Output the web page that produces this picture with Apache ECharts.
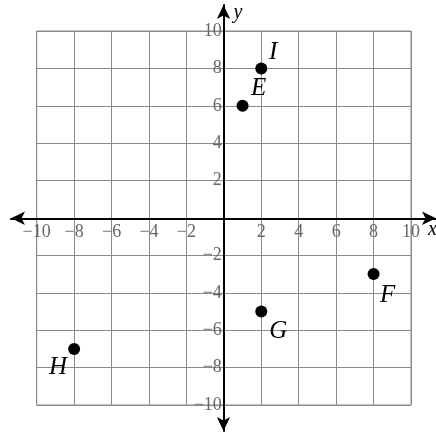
<!DOCTYPE html>
<html>
<head>
<meta charset="utf-8">
<script src="https://cdn.jsdelivr.net/npm/echarts@6/dist/echarts.min.js"></script>
<style>html,body{margin:0;padding:0;background:#fff}#c{width:436px;height:432px}</style>
</head>
<body>
<div id="c"></div>
<script>
// ---- data ----
const pointNames = ['E', 'F', 'G', 'H', 'I'];
const xValues = [1, 8, 2, -8, 2];
const yValues = [6, -3, -5, -7, 8];
const xTickLabels = [-10, -8, -6, -4, -2, 2, 4, 6, 8, 10];
const yTickLabels = [-10, -8, -6, -4, -2, 2, 4, 6, 8, 10];

// ---- layout / styling ----
const W = 436, H = 432;
const g0 = { left: 36.7, right: 25, top: 31, bottom: 27 };
const g0w = W - g0.left - g0.right, g0h = H - g0.top - g0.bottom;
const labelOffsets = { E: [16, -17], F: [14, 21], G: [17, 20], H: [-16, 19], I: [12, -16] };

const serif = 'Liberation Serif, serif';
const fmt = (list) => (v) => list.indexOf(v) >= 0 ? String(v).replace('-', '\u2212') : '';

const chart = echarts.init(document.getElementById('c'));
chart.setOption({
  animation: false,
  backgroundColor: '#fff',
  grid: [
    Object.assign({ show: true, borderColor: '#8a8a8a', borderWidth: 1, outerBoundsMode: 'none', containLabel: false }, g0),
    { left: 11, right: 0, top: 5, bottom: 1, outerBoundsMode: 'none', containLabel: false }
  ],
  xAxis: [
    {
      type: 'value', gridIndex: 0, min: -10, max: 10, interval: 2, position: 'bottom', offset: -g0h / 2,
      axisLine: { show: false, onZero: false }, axisTick: { show: false },
      splitLine: { show: true, lineStyle: { color: '#8a8a8a', width: 1 } },
      axisLabel: { formatter: fmt(xTickLabels), margin: 5, color: '#666', fontFamily: serif, fontSize: 18 }
    },
    {
      type: 'value', gridIndex: 1, min: -11.35, max: 11.35,
      axisLine: { show: true, onZero: true, symbol: ['arrow', 'arrow'], symbolSize: [10, 14], lineStyle: { color: '#000', width: 2 } },
      axisTick: { show: false }, axisLabel: { show: false }, splitLine: { show: false },
      name: 'x', nameLocation: 'end', nameGap: -8,
      nameTextStyle: { fontFamily: serif, fontStyle: 'italic', fontSize: 20, color: '#000', verticalAlign: 'top', padding: [1, 0, 0, 0] }
    }
  ],
  yAxis: [
    {
      type: 'value', gridIndex: 0, min: -10, max: 10, interval: 2, position: 'left', offset: -g0w / 2,
      axisLine: { show: false, onZero: false }, axisTick: { show: false },
      splitLine: { show: true, lineStyle: { color: '#8a8a8a', width: 1 } },
      axisLabel: { formatter: fmt(yTickLabels), margin: 2, color: '#666', fontFamily: serif, fontSize: 18, padding: [4, 0, 0, 0] }
    },
    {
      type: 'value', gridIndex: 1, min: -11.37, max: 11.4,
      axisLine: { show: true, onZero: true, symbol: ['arrow', 'arrow'], symbolSize: [10, 14], lineStyle: { color: '#000', width: 2 } },
      axisTick: { show: false }, axisLabel: { show: false }, splitLine: { show: false },
      name: 'y', nameLocation: 'end', nameGap: -8,
      nameTextStyle: { fontFamily: serif, fontStyle: 'italic', fontSize: 20, color: '#000', align: 'left', verticalAlign: 'middle', padding: [0, 0, 0, 10] }
    }
  ],
  series: [{
    type: 'scatter', xAxisIndex: 0, yAxisIndex: 0,
    symbol: 'circle', symbolSize: 12,
    itemStyle: { color: '#000', opacity: 1 },
    data: pointNames.map((n, i) => ({
      name: n, value: [xValues[i], yValues[i]],
      label: { show: true, position: 'inside', offset: labelOffsets[n], formatter: n }
    })),
    label: { color: '#000', fontFamily: serif, fontStyle: 'italic', fontSize: 25 }
  }]
});
</script>
</body>
</html>
